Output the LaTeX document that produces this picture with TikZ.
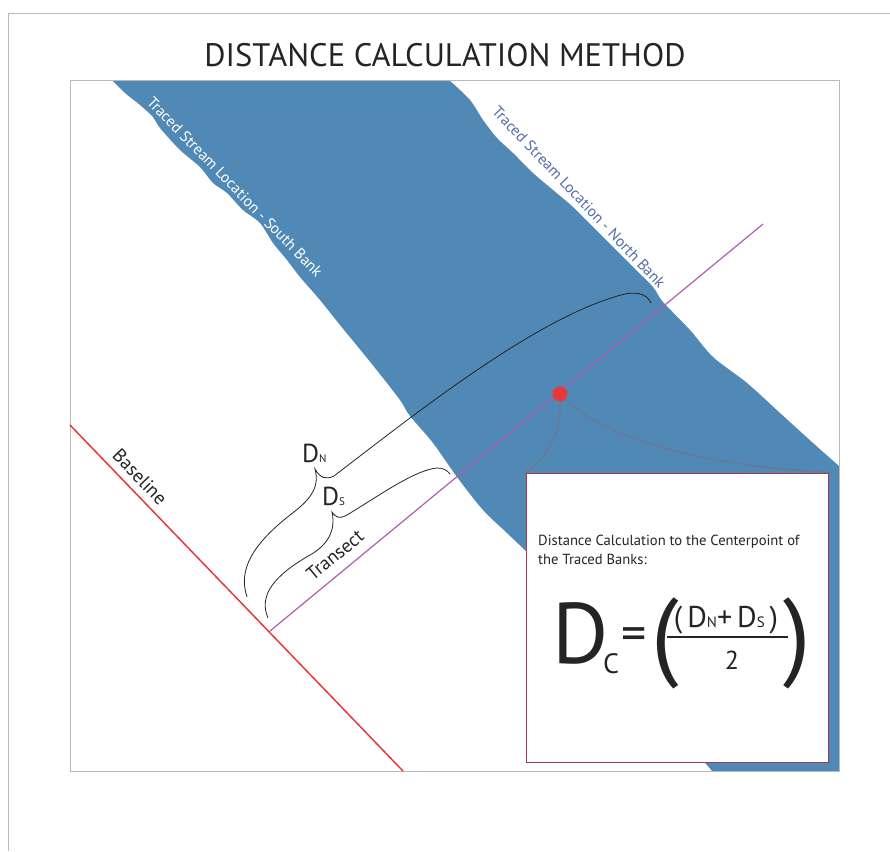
\documentclass[tikz,border=0pt]{standalone}
\usepackage{fontspec}
\setmainfont{PT Sans}
\usepackage{tikz}
\usetikzlibrary{positioning}
\definecolor{streamblue}{RGB}{80,137,181}
\definecolor{northblue}{RGB}{84,108,168}
\definecolor{baselinered}{RGB}{232,56,60}
\definecolor{transectpurple}{RGB}{178,93,170}
\definecolor{framegray}{RGB}{185,185,185}
\definecolor{textgray}{RGB}{38,35,36}
\definecolor{linkgray}{RGB}{115,115,135}
\definecolor{boxred}{RGB}{165,55,85}
\newcommand{\setfs}[1]{\fontsize{#1}{#1}\selectfont}
\tikzstyle{banktext} = [inner sep=0pt, font=\setfs{15.5}]
\tikzstyle{linetext} = [inner sep=0pt, font=\setfs{19}, text=textgray]
\tikzstyle{bracetext} = [inner sep=0pt, anchor=base west, font=\setfs{26}, text=textgray]
\tikzstyle{brace} = [draw=textgray, line width=0.8pt]
\tikzstyle{link} = [draw=linkgray, opacity=0.75, line width=1.3pt]
\tikzstyle{formula} = [inner sep=0pt, text=textgray]
\tikzstyle{calcbox} = [rectangle, draw=boxred, line width=1pt, fill=white, minimum width=302, minimum height=289]

\begin{document}
\begin{tikzpicture}[x=1pt, y=-1pt]
\useasboundingbox (0,0) rectangle (890,851);

% outer frame and title
\draw[framegray, line width=1pt] (8,851) -- (8,14) -- (890,14);
\node (title) [font=\setfs{32.5}, text=textgray] at (445,55) {DISTANCE CALCULATION METHOD};

% the traced stream between its two banks
\fill[streamblue] plot[smooth] coordinates {(112,80) (125,93) (140,105) (153,117) (160,128) (180,150) (200,167) (213,183) (227,193) (243,210) (260,223) (273,243) (287,260) (300,277) (320,300) (340,325) (363,353) (383,378) (400,400) (410,416) (433,443) (457,477) (483,510) (507,533) (530,555)}
  -- (712,771) -- (839,771) -- (839,466)
  -- plot[smooth] coordinates {(839,466) (813,443) (780,413) (747,383) (713,357) (690,330) (663,302) (653,287) (633,267) (613,247) (593,227) (573,207) (553,190) (533,173) (513,153) (497,138) (483,120) (470,100) (449,80)}
  -- cycle;
\draw[framegray, line width=1pt] (70,80) rectangle (839,771);

\node (southbank) [banktext, text=white, rotate=-45.8] at (235,187) {Traced Stream Location - South Bank};
\node (northbank) [banktext, text=northblue, rotate=-46.5] at (579,197) {Traced Stream Location - North Bank};

% baseline and transect
\coordinate (basetop) at (70,425);
\coordinate (basebot) at (403,771);
\coordinate (transfoot) at (270,631);
\coordinate (transtop) at (763,224);
\draw[baselinered, line width=1.5pt] (basetop) -- (basebot);
\draw[transectpurple, line width=1.2pt] (transfoot) -- (transtop);
\node (baselabel) [linetext, rotate=-46] at (140,477) {Baseline};
\node (translabel) [linetext, rotate=39.5] at (335,555) {Transect};

% braces for the two distances
\draw[brace] (247,597) .. controls (238,570) and (252,545) .. (290,515) .. controls (310,500) and (320,488) .. (315,469)
  .. controls (320,478) and (326,480) .. (334,476) .. controls (420,410) and (540,315) .. (625,294) .. controls (640,291) and (648,296) .. (651,303);
\draw[brace] (268,618) .. controls (258,595) and (275,575) .. (310,555) .. controls (328,545) and (336,530) .. (332,512)
  .. controls (336,518) and (340,519) .. (347,515) .. controls (380,495) and (415,470) .. (437,468) .. controls (443,468) and (447,470) .. (450,474);
\node (dnlabel) [bracetext] at (302,462) {D{\setfs{11}N}};
\node (dslabel) [bracetext] at (322,505) {D{\setfs{11}S}};

% centre point and the calculation box
\node (midpt) [circle, fill=baselinered, minimum size=15, inner sep=0pt] at (560,394) {};
\node (calcbox) [calcbox] at (677,617.5) {};
\draw[link] (midpt.south) .. controls (562,430) and (550,455) .. (calcbox.north west);
\draw[link] (midpt.south east) .. controls (610,440) and (700,465) .. (calcbox.north east);

\node (boxtext) [anchor=north west, align=left, inner sep=0pt, text=textgray, font=\fontsize{14.6}{19}\selectfont] at (538,535)
  {Distance Calculation to the Centerpoint of\\the Traced Banks:};
\node (dbig) [formula, anchor=base west, font=\setfs{86}] at (552,663) {D};
\node (dsub) [formula, anchor=base west, font=\setfs{28}] at (603,673) {C};
\node (eqsign) [formula, font=\setfs{50}] at (634,639) {=};
\node (lparen) [formula, font=\setfs{98}] at (665,643) {(};
\node (rparen) [formula, font=\setfs{98}] at (797,643) {)};
\node (numer) [formula, anchor=base, font=\setfs{30}] at (726,627) {(\,D{\setfs{15}N}+\,D{\setfs{15}S}\,)};
\draw[textgray, line width=1.3pt] (667,637) -- (788,637);
\node (denom) [formula, anchor=base, font=\setfs{26}] at (732,669) {2};
\end{tikzpicture}
\end{document}
